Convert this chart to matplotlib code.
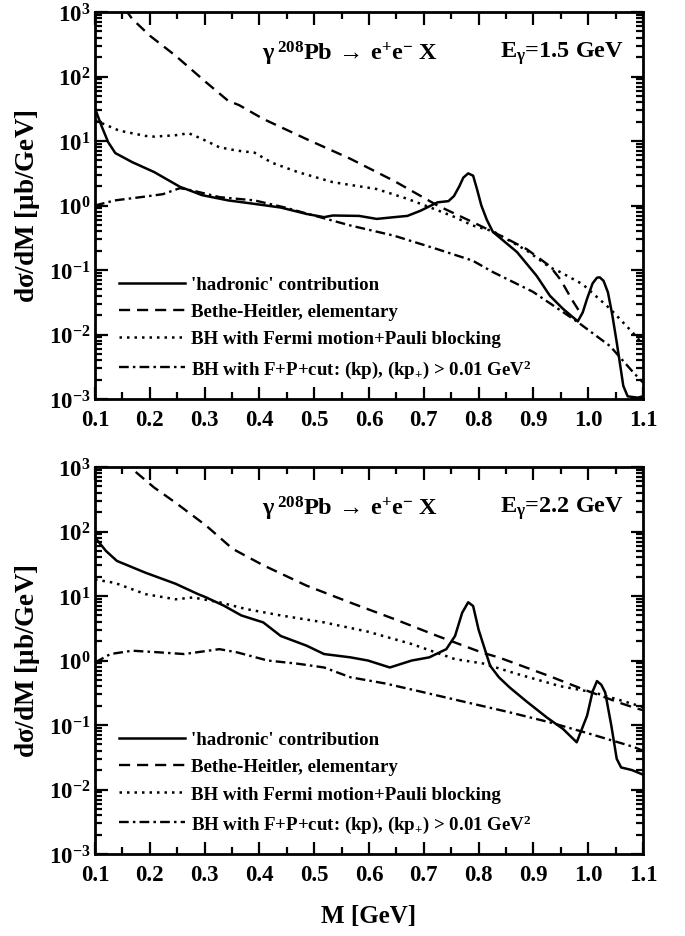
import matplotlib
matplotlib.use('Agg')
import matplotlib.pyplot as plt
from matplotlib.ticker import MultipleLocator, LogLocator, NullFormatter, FixedLocator, FixedFormatter

plt.rcParams['font.family'] = 'Liberation Serif'
plt.rcParams['font.weight'] = 'bold'
plt.rcParams['axes.labelweight'] = 'bold'
plt.rcParams['mathtext.fontset'] = 'custom'
plt.rcParams['mathtext.rm'] = 'Liberation Serif:bold'
plt.rcParams['mathtext.it'] = 'Liberation Serif:bold'
plt.rcParams['mathtext.bf'] = 'Liberation Serif:bold'
plt.rcParams['lines.scale_dashes'] = False

# --- E_gamma = 1.5 GeV ---
m_had_15 = [0.100, 0.112, 0.124, 0.137, 0.168, 0.208, 0.255, 0.270, 0.295, 0.343, 0.391, 0.439,
            0.486, 0.518, 0.534, 0.582, 0.614, 0.646, 0.670, 0.694, 0.725, 0.745, 0.755, 0.765,
            0.772, 0.781, 0.790, 0.797, 0.805, 0.815, 0.826, 0.870, 0.906, 0.930, 0.954, 0.981,
            0.990, 0.998, 1.008, 1.016, 1.021, 1.028, 1.036, 1.044, 1.052, 1.058, 1.064, 1.072,
            1.090, 1.100]
had_15 = [32, 17, 9.6, 6.5, 4.7, 3.3, 1.95, 1.75, 1.45, 1.2, 1.06, 0.93,
          0.74, 0.66, 0.70, 0.69, 0.62, 0.66, 0.69, 0.83, 1.12, 1.17, 1.4, 2.0,
          2.7, 3.15, 2.9, 1.8, 1.0, 0.6, 0.39, 0.19, 0.081, 0.040, 0.025, 0.016,
          0.022, 0.036, 0.062, 0.076, 0.077, 0.068, 0.045, 0.02, 0.0076, 0.0035, 0.0016, 0.0011,
          0.00105, 0.0011]

m_bh_15 = [0.155, 0.168, 0.200, 0.247, 0.303, 0.343, 0.363, 0.407, 0.486, 0.566, 0.646, 0.725,
           0.800, 0.850, 0.888, 0.930, 0.950, 0.970, 0.985]
bh_15 = [1100, 780, 430, 210, 81, 42, 36, 22, 10.7, 5.3, 2.4, 1.0,
         0.50, 0.31, 0.21, 0.115, 0.07, 0.035, 0.022]

m_fp_15 = [0.100, 0.144, 0.192, 0.208, 0.247, 0.271, 0.295, 0.327, 0.359, 0.391, 0.423, 0.470,
           0.534, 0.614, 0.670, 0.718, 0.757, 0.789, 0.826, 0.888, 0.930, 0.949, 0.990, 1.040,
           1.080, 1.100]
fp_15 = [21, 14.5, 12, 11.7, 12.3, 13.2, 10.8, 8.0, 7.1, 6.6, 4.6, 3.3,
         2.3, 1.8, 1.27, 0.89, 0.66, 0.49, 0.40, 0.20, 0.11, 0.093, 0.060, 0.025,
         0.011, 0.007]

m_cut_15 = [0.100, 0.136, 0.184, 0.224, 0.255, 0.279, 0.327, 0.391, 0.447, 0.502, 0.566, 0.646,
            0.725, 0.789, 0.826, 0.899, 0.979, 1.040, 1.082, 1.100]
cut_15 = [1.0, 1.2, 1.35, 1.5, 1.86, 1.7, 1.35, 1.2, 0.93, 0.69, 0.49, 0.34,
          0.21, 0.14, 0.093, 0.046, 0.016, 0.0066, 0.0026, 0.0018]

# --- E_gamma = 2.2 GeV ---
m_had_22 = [0.100, 0.120, 0.140, 0.192, 0.247, 0.287, 0.303, 0.335, 0.367, 0.407, 0.439, 0.486,
            0.518, 0.566, 0.598, 0.638, 0.678, 0.710, 0.741, 0.757, 0.770, 0.781, 0.790, 0.800,
            0.813, 0.821, 0.837, 0.857, 0.888, 0.925, 0.954, 0.979, 0.998, 1.008, 1.016, 1.024,
            1.031, 1.042, 1.052, 1.060, 1.080, 1.100]
had_22 = [81, 50, 35, 23, 15.5, 10.8, 9.5, 7.1, 5.0, 3.9, 2.4, 1.7,
          1.26, 1.12, 1.0, 0.78, 1.0, 1.12, 1.5, 2.4, 5.5, 8.0, 7.0, 3.0,
          1.35, 0.83, 0.55, 0.38, 0.23, 0.13, 0.087, 0.054, 0.14, 0.33, 0.48, 0.42,
          0.32, 0.10, 0.03, 0.022, 0.02, 0.017]

m_bh_22 = [0.150, 0.168, 0.208, 0.247, 0.303, 0.351, 0.407, 0.486, 0.566, 0.646, 0.725, 0.805,
           0.839, 0.930, 0.990, 1.058, 1.089, 1.100]
bh_22 = [1300, 930, 480, 280, 123, 54, 30, 14.5, 7.9, 4.4, 2.4, 1.34,
         1.1, 0.57, 0.36, 0.22, 0.18, 0.17]

m_fp_22 = [0.100, 0.136, 0.192, 0.247, 0.279, 0.327, 0.375, 0.439, 0.518, 0.598, 0.678, 0.757,
           0.808, 0.870, 0.949, 1.010, 1.060, 1.100]
fp_22 = [18, 16, 10.7, 8.9, 9.5, 8.0, 6.3, 5.0, 3.9, 2.8, 1.8, 1.05,
         0.9, 0.62, 0.40, 0.32, 0.24, 0.19]

m_cut_22 = [0.100, 0.128, 0.168, 0.216, 0.263, 0.327, 0.359, 0.415, 0.471, 0.518, 0.566, 0.630,
            0.694, 0.773, 0.853, 0.930, 1.003, 1.082, 1.100]
cut_22 = [0.93, 1.26, 1.42, 1.34, 1.26, 1.5, 1.34, 1.0, 0.89, 0.78, 0.55, 0.44,
          0.33, 0.23, 0.16, 0.11, 0.073, 0.046, 0.04]

labels = ["'hadronic' contribution",
          "Bethe-Heitler, elementary",
          "BH with Fermi motion+Pauli blocking",
          r"BH with F+P+cut: (kp), (kp$_{+}$) > 0.01 GeV$^{2}$"]
energies = ['1.5', '2.2']
xticks = [0.1, 0.2, 0.3, 0.4, 0.5, 0.6, 0.7, 0.8, 0.9, 1.0, 1.1]
xticklabels = ['0.1', '0.2', '0.3', '0.4', '0.5', '0.6', '0.7', '0.8', '0.9', '1.0', '1.1']
yticks = [1e-3, 1e-2, 1e-1, 1e0, 1e1, 1e2, 1e3]
yticklabels = [r'$10^{-3}$', r'$10^{-2}$', r'$10^{-1}$', r'$10^{0}$', r'$10^{1}$', r'$10^{2}$', r'$10^{3}$']

panels = [
    (m_had_15, had_15, m_bh_15, bh_15, m_fp_15, fp_15, m_cut_15, cut_15),
    (m_had_22, had_22, m_bh_22, bh_22, m_fp_22, fp_22, m_cut_22, cut_22),
]

fig = plt.figure(figsize=(6.85, 9.37), dpi=100)
ax1 = fig.add_axes([0.1387, 0.5731, 0.8, 0.4130])
ax2 = fig.add_axes([0.1387, 0.0875, 0.8, 0.4130])

for ax, data, e in zip([ax1, ax2], panels, energies):
    mh, h, mb, b, mf, f, mc, c = data
    ax.plot(mh, h, color='black', lw=1.8, label=labels[0])
    ax.plot(mb, b, color='black', lw=1.7, dashes=(8, 5), label=labels[1])
    ax.plot(mf, f, color='black', lw=1.8, dashes=(1.8, 3.6), label=labels[2])
    ax.plot(mc, c, color='black', lw=1.7, dashes=(7, 3, 1.8, 3), label=labels[3])

    ax.set_yscale('log')
    ax.set_xlim(0.1, 1.1)
    ax.set_ylim(1e-3, 1e3)

    ax.xaxis.set_major_locator(FixedLocator(xticks))
    ax.xaxis.set_major_formatter(FixedFormatter(xticklabels))
    ax.xaxis.set_minor_locator(MultipleLocator(0.05))
    ax.yaxis.set_major_locator(FixedLocator(yticks))
    ax.yaxis.set_major_formatter(FixedFormatter(yticklabels))
    ax.yaxis.set_minor_locator(LogLocator(base=10, subs=range(2, 10), numticks=20))
    ax.yaxis.set_minor_formatter(NullFormatter())

    ax.tick_params(which='both', direction='in', top=True, right=True, width=1.6, labelsize=16.5)
    ax.tick_params(which='major', length=9)
    ax.tick_params(which='minor', length=5)
    ax.tick_params(axis='x', pad=7)
    for s in ax.spines.values():
        s.set_linewidth(2)

    ax.set_ylabel(r'd$\sigma$/dM [$\mu$b/GeV]', fontsize=19.5, labelpad=5)

    ax.text(0.305, 0.895, r'$\gamma\,^{208}$Pb$\,\rightarrow\,$e$^{+}$e$^{-}$ X',
            transform=ax.transAxes, fontsize=17.5, va='center', ha='left')
    ax.text(0.966, 0.895, r'E$_{\gamma}$=' + e + ' GeV',
            transform=ax.transAxes, fontsize=17.5, va='center', ha='right')

    ax.legend(loc='lower left', bbox_to_anchor=(0.03, 0.03), frameon=False, fontsize=13.6,
              handlelength=3.5, handletextpad=0.3, labelspacing=0.52, borderaxespad=0)

ax2.set_xlabel('M [GeV]', fontsize=18, labelpad=14)

fig.savefig('out.png', dpi=100)
